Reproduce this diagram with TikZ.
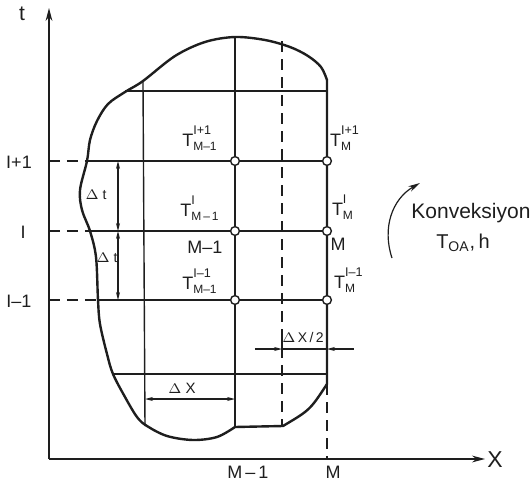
\documentclass[tikz,border=0pt]{standalone}
\usepackage{amsmath}
\usepackage{fontspec}
\setmainfont{Liberation Sans}
\usetikzlibrary{positioning, arrows.meta, calc}
\definecolor{cInk}{HTML}{1E1E1E}

% temperature label: T with index below and time level above
\newcommand{\Tval}[2]{T\ensuremath{_{\text{#2}}^{\raisebox{2.6pt}{\fontsize{6.3}{7}\selectfont #1}}}}

\tikzset{
  gridline/.style={draw=cInk, line width=0.7pt},
  guide/.style={draw=cInk, line width=0.7pt, dash pattern=on 5.5pt off 3.5pt},
  outline/.style={draw=cInk, line width=1.2pt, line join=round},
  gridpt/.style={circle, draw=cInk, fill=white, line width=0.7pt, inner sep=0pt, minimum size=4.4pt},
  dimline/.style={draw=cInk, line width=0.55pt, {Stealth[length=4pt,width=2pt]}-{Stealth[length=4pt,width=2pt]}},
  dimtip/.style={draw=cInk, line width=0.55pt, -{Stealth[length=4pt,width=2pt]}},
  axis/.style={draw=cInk, line width=0.7pt, -{Stealth[length=6.5pt,width=3.4pt]}},
  lbl/.style={font=\fontsize{9}{10}\selectfont, text=cInk, inner sep=0.5pt},
  tiny lbl/.style={font=\fontsize{7}{8}\selectfont, text=cInk, inner sep=0.5pt},
}

\begin{document}
\begin{tikzpicture}[x=0.5pt, y=-0.5pt]
  \useasboundingbox (0,0) rectangle (532,488);

  % axes
  \coordinate (O) at (49,459);
  \coordinate (tTip) at (49,8);
  \coordinate (xTip) at (485,459);
  \draw[axis] (O) -- (tTip);
  \draw[axis] (O) -- (xTip);
  \node[lbl, font=\fontsize{10.5}{12}\selectfont] (tLab) at (22,14) {t};
  \node[lbl, font=\fontsize{11.5}{12}\selectfont] (xLab) at (495,460) {X};

  % body outline
  \draw[outline] plot[smooth, tension=0.55] coordinates {
      (327,80) (321,67) (308,56) (290,47) (265,40) (235,37) (205,42) (175,56)
      (143,81) (125,92) (108,104) (97,121) (90,140) (87,161) (80,190) (82,210)
      (90,231) (96,257) (98,300) (100,324) (107,354) (113,374) (125,397)
      (137,417) (147,426) (167,436) (193,440) (217,437) (235,427)}
    -- (283,426) .. controls (310,410) .. (327,384) -- cycle;

  % grid points
  \node[gridpt] (pLa) at (235,161) {};
  \node[gridpt] (pLb) at (235,231) {};
  \node[gridpt] (pLc) at (235,300) {};
  \node[gridpt] (pRa) at (327,161) {};
  \node[gridpt] (pRb) at (327,231) {};
  \node[gridpt] (pRc) at (327,300) {};

  % grid lines
  \coordinate (eT) at (125,91);   \coordinate (rT) at (327,91);
  \coordinate (eA) at (87,161);   \coordinate (aA) at (49,161);
  \coordinate (eB) at (90,231);   \coordinate (aB) at (49,231);
  \coordinate (eC) at (98,300);   \coordinate (aC) at (49,300);
  \coordinate (eD) at (113,374);  \coordinate (rD) at (327,374);
  \coordinate (cLt) at (143,82);  \coordinate (cLb) at (145,426);
  \coordinate (cMt) at (235,37);  \coordinate (cMb) at (235,427);
  \coordinate (cDt) at (282,41);  \coordinate (cDb) at (282,426);
  \coordinate (cRb) at (327,384); \coordinate (cRa) at (327,459);

  \draw[gridline] (eT) -- (rT);
  \draw[gridline] (eA) -- (pLa) -- (pRa);
  \draw[gridline] (eB) -- (pLb) -- (pRb);
  \draw[gridline] (eC) -- (pLc) -- (pRc);
  \draw[gridline] (eD) -- (rD);
  \draw[gridline] (cLt) -- (cLb);
  \draw[gridline] (cMt) -- (pLa) -- (pLb) -- (pLc) -- (cMb);
  \draw[guide] (cDt) -- (cDb);
  \draw[guide] (cRb) -- (cRa);
  \draw[guide] (aA) -- (eA);
  \draw[guide] (aB) -- (eB);
  \draw[guide] (aC) -- (eC);

  % row and column labels
  \node[lbl] (rowA) at (19,162) {I+1};
  \node[lbl] (rowB) at (23,232) {I};
  \node[lbl] (rowC) at (19,301) {I\textendash1};
  \node[lbl] (colL) at (248,472) {M\,\textendash\,1};
  \node[lbl] (colR) at (333,472) {M};

  % temperatures at grid points
  \node[lbl] (tLa) at (200,138) {\Tval{I+1}{M\textendash1}};
  \node[lbl] (tLb) at (200,208) {\Tval{I}{M\,\textendash\,1}};
  \node[lbl] (tLc) at (200,281) {\Tval{I\textendash1}{M\textendash1}};
  \node[lbl] (mL) at (205,247) {M\textendash1};
  \node[lbl] (tRa) at (345,138) {\Tval{I+1}{M}};
  \node[lbl] (tRb) at (343,207) {\Tval{I}{M}};
  \node[lbl] (tRc) at (349,280) {\Tval{I\textendash1}{M}};
  \node[lbl] (mR) at (338,244) {M};

  % step sizes
  \coordinate (dA) at (118,161);
  \coordinate (dB) at (118,231);
  \coordinate (dC) at (118,300);
  \draw[dimline] (dA) -- (dB);
  \draw[dimline] (dB) -- (dC);
  \node[tiny lbl] (dtA) at (96,195) {$\Delta$ t};
  \node[tiny lbl] (dtB) at (107,258) {$\Delta$ t};

  \coordinate (dxL) at (145,399);
  \coordinate (dxR) at (235,399);
  \draw[dimline] (dxL) -- (dxR);
  \node[tiny lbl, font=\fontsize{7.5}{8}\selectfont] (dxLab) at (182,388) {$\Delta$ X};

  \coordinate (hL) at (255,349);
  \coordinate (hD) at (282,349);
  \coordinate (hM) at (327,349);
  \coordinate (hR) at (354,349);
  \coordinate (hT) at (282,333);
  \coordinate (hB) at (282,355);
  \draw[dimtip] (hL) -- (hD);
  \draw[dimtip] (hR) -- (hM);
  \draw[gridline, line width=0.55pt] (hD) -- (hM);
  \draw[gridline] (hT) -- (hB);
  \node[tiny lbl] (dx2Lab) at (303,337) {$\Delta$\,X\,/\,2};

  % convection
  \coordinate (cvA) at (392,258);
  \coordinate (cvB) at (420,183);
  \draw[dimtip, line width=0.6pt, -{Stealth[length=6pt,width=3pt]}]
    (cvA) .. controls (382,228) and (392,199) .. (cvB);
  \node[lbl, font=\fontsize{10.5}{12}\selectfont, anchor=west] (konv) at (410,213) {Konveksiyon};
  \node[lbl, font=\fontsize{10}{12}\selectfont] (konvT) at (463,243) {T$_{\text{OA}}$,\,h};
\end{tikzpicture}
\end{document}
